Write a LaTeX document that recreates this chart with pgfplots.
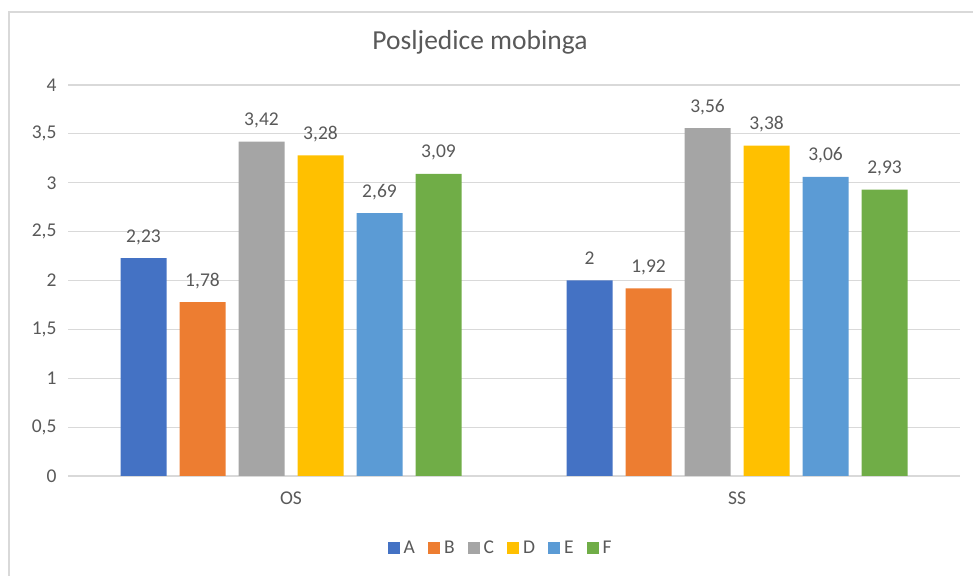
\documentclass[border=0pt]{standalone}
\usepackage{pgfplots}
\pgfplotsset{compat=1.18}
\usepackage{fontspec}
\setmainfont{Carlito}
\definecolor{cA}{HTML}{4472C4}
\definecolor{cB}{HTML}{ED7D31}
\definecolor{cC}{HTML}{A5A5A5}
\definecolor{cD}{HTML}{FFC000}
\definecolor{cE}{HTML}{5B9BD5}
\definecolor{cF}{HTML}{70AD47}
\definecolor{txt}{HTML}{595959}
\definecolor{lgrey}{HTML}{D9D9D9}
\pgfplotsset{myleg/.style={legend image code/.code={\fill[##1,draw=none] (0pt,-6pt) rectangle (12pt,6pt);}}}
\newcommand{\sm}{\fontsize{19.5}{23}\selectfont}
\begin{document}
\begin{tikzpicture}[x=1pt,y=1pt]
\path[use as bounding box] (0,0) rectangle (973,575);
\draw[color=lgrey, line width=1.2pt] (9,-2) |- (980,563);
\node[font=\fontsize{27.5}{31}\selectfont, text=txt] at (480,533) {Posljedice mobinga};
\begin{axis}[at={(68pt,99pt)}, anchor=south west, scale only axis,
  width=892pt, height=391pt,
  ybar=13pt, bar width=46pt,
  xmin=-0.5, xmax=1.5, ymin=0, ymax=4,
  xtick={0,1}, xticklabels={OS,SS},
  ytick={0,0.5,1,1.5,2,2.5,3,3.5,4},
  /pgf/number format/.cd, use comma, assume math mode=true, /pgfplots/.cd,
  major tick length=0pt,
  axis x line*=bottom, axis y line*=left,
  x axis line style={draw=lgrey, line width=1.5pt, -},
  y axis line style={draw=none},
  ymajorgrids, grid style={draw=lgrey, line width=1.2pt},
  yticklabel style={font=\sm, text=txt, xshift=-8pt},
  xticklabel style={font=\sm, text=txt, yshift=-12pt},
  nodes near coords={\pgfmathprintnumber[fixed,precision=2,use comma]{\pgfplotspointmeta}},
  every node near coord/.append style={font=\sm, text=txt, anchor=base, inner sep=0pt, yshift=16pt},
  legend style={at={(0.485,-0.184)}, anchor=center, draw=none, fill=none,
    legend columns=-1, font=\sm, text=txt,
    /tikz/every odd column/.append style={column sep=2pt},
    /tikz/every even column/.append style={column sep=11pt}},
]
\addplot[fill=cA, draw=none, myleg] coordinates {(0,2.23) (1,2)};
\addplot[fill=cB, draw=none, myleg] coordinates {(0,1.78) (1,1.92)};
\addplot[fill=cC, draw=none, myleg] coordinates {(0,3.42) (1,3.56)};
\addplot[fill=cD, draw=none, myleg] coordinates {(0,3.28) (1,3.38)};
\addplot[fill=cE, draw=none, myleg] coordinates {(0,2.69) (1,3.06)};
\addplot[fill=cF, draw=none, myleg] coordinates {(0,3.09) (1,2.93)};
\legend{A,B,C,D,E,F}
\end{axis}
\end{tikzpicture}
\end{document}
